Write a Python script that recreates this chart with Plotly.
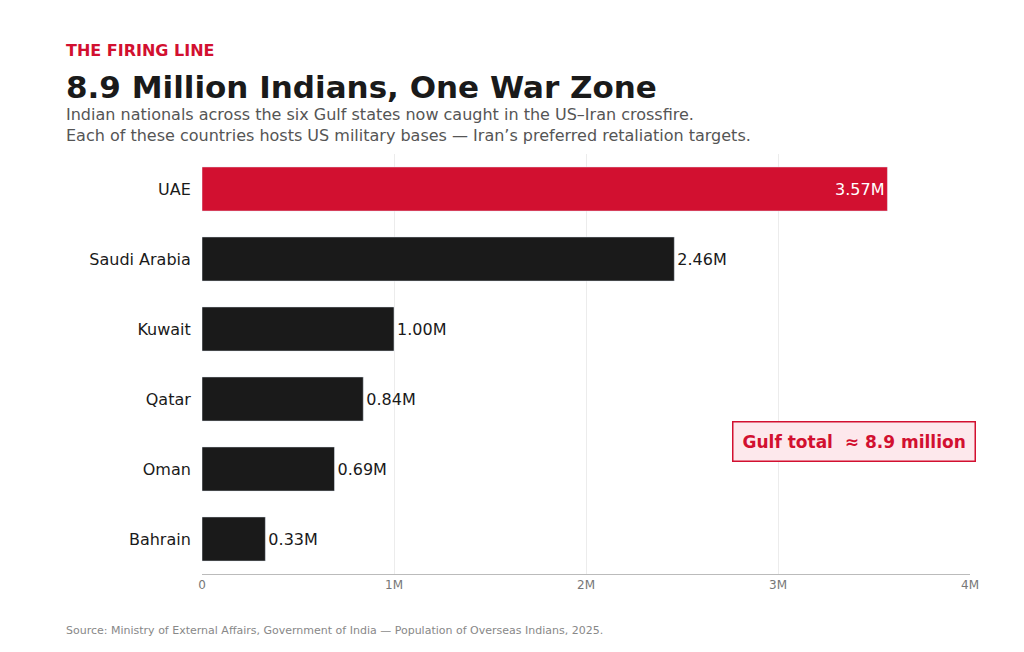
import plotly.graph_objects as go

countries = ["UAE", "Saudi Arabia", "Kuwait", "Qatar", "Oman", "Bahrain"]
values = [3.57, 2.46, 1.00, 0.84, 0.69, 0.33]  # millions
labels = ["3.57M", "2.46M", "1.00M", "0.84M", "0.69M", "0.33M"]
tick_vals = [0, 1, 2, 3, 4]
tick_text = ["0", "1M", "2M", "3M", "4M"]

RED = "#d21030"
DARK = "#1a1a1a"

colors = [RED] + [DARK] * 5
positions = ["inside"] + ["outside"] * 5
text_colors = ["white"] + [DARK] * 5

fig = go.Figure()
fig.add_trace(go.Bar(
    x=values, y=countries, orientation="h",
    marker_color=colors, width=0.63,
    text=labels, textposition=positions, insidetextanchor="end",
    textfont=dict(size=16, color=text_colors, family="DejaVu Sans"),
    cliponaxis=False, hoverinfo="skip",
))

fig.update_layout(
    width=1024, height=652,
    margin=dict(l=194, r=62, t=146, b=86),
    paper_bgcolor="white", plot_bgcolor="white",
    font=dict(family="DejaVu Sans", color=DARK),
    showlegend=False,
    xaxis=dict(range=[0, 4], tickvals=tick_vals, ticktext=tick_text,
               showgrid=True, gridcolor="#ececec", zeroline=False,
               showline=True, linecolor="#bbbbbb", tickfont=dict(size=12, color="#777777")),
    yaxis=dict(categoryorder="array", categoryarray=countries[::-1],
               tickfont=dict(size=16, color=DARK), ticksuffix="  ", showgrid=False),
    annotations=[
        dict(text="<b>THE FIRING LINE</b>", x=56, y=42, xref="paper", yref="paper",
             showarrow=False, xanchor="left", yanchor="middle",
             font=dict(size=16, color=RED)),
        dict(text="<b>8.9 Million Indians, One War Zone</b>", x=56, y=79,
             showarrow=False, xanchor="left", yanchor="middle",
             font=dict(size=31, color=DARK)),
        dict(text="Indian nationals across the six Gulf states now caught in the US–Iran crossfire.<br>"
                  "Each of these countries hosts US military bases — Iran’s preferred retaliation targets.",
             x=56, y=117, showarrow=False, xanchor="left", yanchor="middle", align="left",
             font=dict(size=16, color="#555555")),
        dict(text="Source: Ministry of External Affairs, Government of India — Population of Overseas Indians, 2025.",
             x=56, y=622, showarrow=False, xanchor="left", yanchor="middle",
             font=dict(size=11, color="#888888")),
        dict(text="<b>Gulf total  ≈ 8.9 million</b>", x=846, y=433, showarrow=False,
             xanchor="center", yanchor="middle", font=dict(size=17, color=RED),
             bgcolor="#fde8ec", bordercolor=RED, borderwidth=1.5, borderpad=9),
    ],
)
# position the text annotations in pixels
for a in fig.layout.annotations:
    a.xref = "paper"; a.yref = "paper"
    a.x = (a.x - 194) / (1024 - 194 - 62)
    a.y = 1 - (a.y - 146) / (652 - 146 - 86)

fig.write_html("out.html")
